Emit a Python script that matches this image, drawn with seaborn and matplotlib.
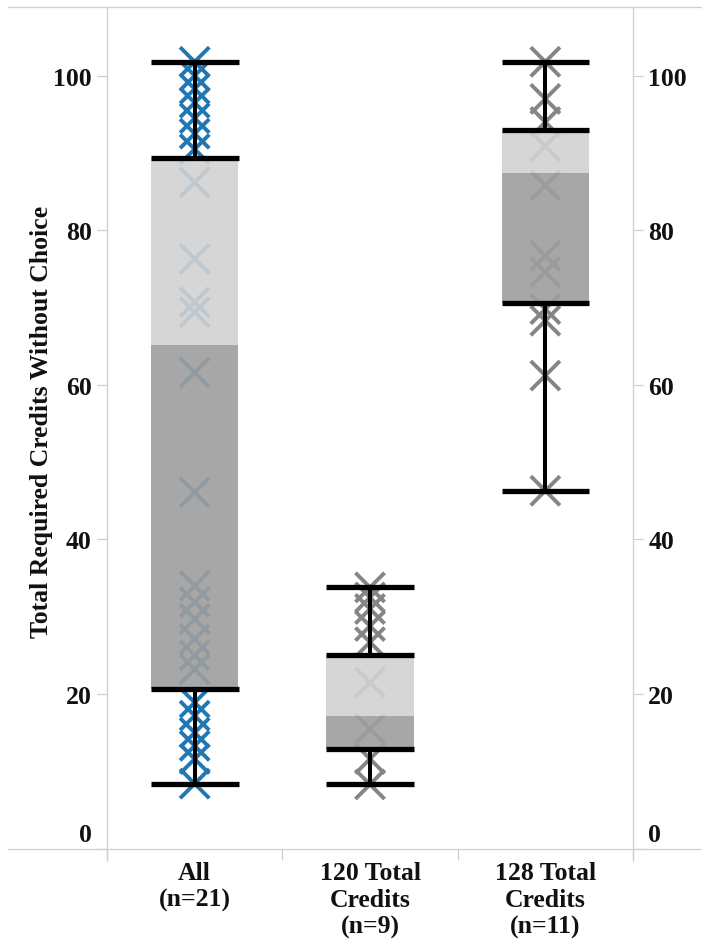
import numpy as np
import pandas as pd
import matplotlib
matplotlib.use("Agg")
import matplotlib.pyplot as plt
import matplotlib.transforms as mtransforms
from matplotlib.lines import Line2D
import seaborn as sns

# ---------------- data ----------------
categories = ["All\n(n=21)", "120 Total\nCredits\n(n=9)", "128 Total\nCredits\n(n=11)"]

all_values = [8.4, 11.6, 13.3, 15.0, 17.2, 18.9, 23.2, 25.0, 27.1, 29.7, 31.9, 34.0,
              46.1, 61.6, 69.4, 70.7, 76.3, 86.2, 90.5, 92.5, 94.5, 96.5, 98.3,
              100.0, 101.8]
c120_values = [8.3, 11.6, 15.5, 21.5, 26.7, 28.8, 31.0, 32.5, 33.8]
c128_values = [46.3, 61.2, 68.3, 69.8, 74.6, 76.7, 85.8, 90.9, 94.0, 97.0, 101.8]

whisker_low = [8.4, 8.3, 46.3]
q1 = [20.6, 12.9, 70.6]
median = [65.2, 17.2, 87.4]
q3 = [89.3, 25.0, 93.0]
whisker_high = [101.8, 33.8, 101.8]

point_colors = {"All": "#1f77b4", "Sub": "#858585"}
y_ticks = [0, 20, 40, 60, 80, 100]
y_label = "Total Required Credits Without Choice"

# ---------------- table ----------------
rows = []
for v in all_values:
    rows.append((categories[0], v, "All"))
for v in c120_values:
    rows.append((categories[1], v, "Sub"))
for v in c128_values:
    rows.append((categories[2], v, "Sub"))
df = pd.DataFrame(rows, columns=["group", "value", "colour"])

# ---------------- style ----------------
sns.set_theme(style="white")
plt.rcParams["font.family"] = ["Liberation Serif", "DejaVu Serif"]
plt.rcParams["font.weight"] = "bold"

W, H = 702, 945
fig = plt.figure(figsize=(W / 100, H / 100), dpi=100)
ax_l, ax_r, ax_b, ax_t = 107, 633, 849.6, 8
ax = fig.add_axes([ax_l / W, 1 - ax_b / H, (ax_r - ax_l) / W, (ax_b - ax_t) / H])

# points
sns.scatterplot(data=df, x="group", y="value", hue="colour", palette=point_colors,
                marker="x", s=21 ** 2, linewidth=2.8, legend=False, ax=ax, zorder=2)

# boxes + whiskers
pos = np.arange(len(categories))
bw = 0.5
ax.bar(pos, np.array(median) - np.array(q1), bottom=q1, width=bw,
       color="#9e9e9e", alpha=0.9, zorder=3, linewidth=0)
ax.bar(pos, np.array(q3) - np.array(median), bottom=median, width=bw,
       color="#d2d2d2", alpha=0.9, zorder=3, linewidth=0)
ax.vlines(pos, whisker_low, q1, color="black", linewidth=2.9, zorder=4)
ax.vlines(pos, q3, whisker_high, color="black", linewidth=2.9, zorder=4)
for arr in (whisker_low, q1, q3, whisker_high):
    ax.hlines(arr, pos - bw / 2, pos + bw / 2, color="black", linewidth=3.8, zorder=5)

# axes
ax.set_xlim(-0.5, 2.5)
ax.set_ylim(0, (ax_b - ax_t) / 7.729)
ax.set_yticks(y_ticks)
ax.set_yticklabels([str(t) for t in y_ticks])
ax.set_xticks(pos)
ax.set_xticklabels(categories, fontsize=18.5, fontweight="bold", linespacing=1.2,
                   color="#111111")
ax.set_xticks([-0.5, 0.5, 1.5, 2.5], minor=True)
ax.set_xlabel("")
ax.set_ylabel(y_label, fontsize=18.5, fontweight="bold", color="#111111")
ax.yaxis.set_label_coords(-0.103, 0.508)
for s in ax.spines.values():
    s.set_visible(False)

ax.tick_params(axis="x", which="major", length=0, pad=9)
ax.tick_params(axis="x", which="minor", length=8, width=0.9, color="#cfcfcf",
               direction="out", bottom=True)
ax.tick_params(axis="y", which="major", left=True, right=True, labelleft=True,
               labelright=True, length=7, width=0.9, color="#cfcfcf", pad=4,
               labelsize=18.5, labelcolor="#111111", direction="out")
for lab in ax.get_yticklabels():
    lab.set_fontweight("bold")

# lift the "0" labels like the reference
t0 = ax.yaxis.get_major_ticks()[0]
off = mtransforms.ScaledTranslation(0, 3 / 100, fig.dpi_scale_trans)
for lab in (t0.label1, t0.label2):
    lab.set_va("bottom")
    lab.set_transform(lab.get_transform() + off)

# frame lines (figure coords)
lc = "#cfcfcf"
def fl(x0, y0, x1, y1):
    fig.add_artist(Line2D([x0 / W, x1 / W], [1 - y0 / H, 1 - y1 / H],
                          transform=fig.transFigure, color=lc, linewidth=0.9))
fl(8, ax_t, W, ax_t)
fl(8, ax_b, W, ax_b)
fl(ax_l, ax_t, ax_l, 862)
fl(ax_r, ax_t, ax_r, 862)

fig.savefig("out.png", dpi=100)
